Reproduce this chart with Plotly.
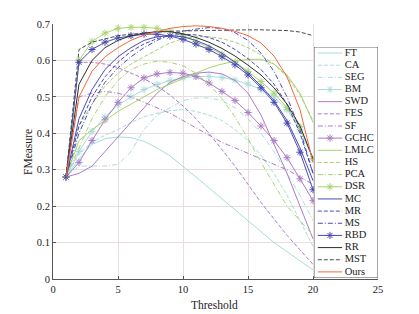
import plotly.graph_objects as go

thresholds = list(range(1, 21))

names = ["FT", "CA", "SEG", "BM", "SWD", "FES", "SF", "GCHC", "LMLC", "HS",
         "PCA", "DSR", "MC", "MR", "MS", "RBD", "RR", "MST", "Ours"]

FT = [0.28, 0.33, 0.37, 0.385, 0.39, 0.388, 0.378, 0.36, 0.338, 0.31, 0.28, 0.25, 0.22, 0.19, 0.16, 0.13, 0.10, 0.075, 0.05, 0.025]
CA = [0.28, 0.345, 0.375, 0.395, 0.41, 0.43, 0.445, 0.455, 0.462, 0.465, 0.46, 0.45, 0.435, 0.41, 0.38, 0.34, 0.29, 0.23, 0.16, 0.09]
SEG = [0.28, 0.31, 0.31, 0.31, 0.315, 0.35, 0.41, 0.45, 0.47, 0.49, 0.497, 0.497, 0.49, 0.47, 0.44, 0.40, 0.35, 0.29, 0.23, 0.16]
BM = [0.28, 0.35, 0.405, 0.445, 0.478, 0.50, 0.52, 0.534, 0.545, 0.552, 0.556, 0.556, 0.553, 0.546, 0.535, 0.52, 0.50, 0.465, 0.41, 0.33]
SWD = [0.28, 0.29, 0.31, 0.35, 0.39, 0.43, 0.47, 0.51, 0.54, 0.555, 0.565, 0.568, 0.563, 0.545, 0.51, 0.45, 0.37, 0.29, 0.20, 0.11]
FES = [0.28, 0.595, 0.595, 0.59, 0.58, 0.565, 0.55, 0.53, 0.505, 0.475, 0.44, 0.40, 0.355, 0.31, 0.26, 0.21, 0.165, 0.12, 0.08, 0.04]
SF = [0.28, 0.50, 0.51, 0.515, 0.51, 0.50, 0.485, 0.47, 0.455, 0.435, 0.415, 0.395, 0.375, 0.36, 0.345, 0.33, 0.315, 0.30, 0.28, 0.26]
GCHC = [0.28, 0.32, 0.38, 0.437, 0.485, 0.525, 0.552, 0.563, 0.567, 0.565, 0.556, 0.538, 0.515, 0.49, 0.457, 0.42, 0.38, 0.333, 0.275, 0.215]
LMLC = [0.28, 0.38, 0.41, 0.435, 0.46, 0.48, 0.50, 0.52, 0.535, 0.55, 0.565, 0.58, 0.59, 0.598, 0.603, 0.603, 0.59, 0.56, 0.51, 0.43]
HS = [0.28, 0.42, 0.48, 0.53, 0.565, 0.59, 0.61, 0.63, 0.648, 0.66, 0.665, 0.665, 0.66, 0.65, 0.635, 0.615, 0.59, 0.555, 0.505, 0.435]
PCA = [0.28, 0.36, 0.44, 0.50, 0.545, 0.575, 0.59, 0.598, 0.595, 0.585, 0.565, 0.535, 0.495, 0.445, 0.385, 0.32, 0.26, 0.20, 0.16, 0.12]
DSR = [0.28, 0.60, 0.652, 0.675, 0.688, 0.691, 0.691, 0.688, 0.68, 0.668, 0.652, 0.635, 0.617, 0.596, 0.57, 0.542, 0.51, 0.47, 0.418, 0.33]
MC = [0.28, 0.44, 0.52, 0.575, 0.61, 0.635, 0.655, 0.665, 0.668, 0.665, 0.655, 0.64, 0.62, 0.595, 0.565, 0.53, 0.49, 0.435, 0.36, 0.27]
MR = [0.28, 0.42, 0.50, 0.555, 0.595, 0.625, 0.645, 0.66, 0.668, 0.672, 0.67, 0.663, 0.65, 0.63, 0.605, 0.575, 0.535, 0.48, 0.40, 0.29]
MS = [0.28, 0.40, 0.48, 0.54, 0.58, 0.61, 0.635, 0.655, 0.67, 0.68, 0.686, 0.69, 0.688, 0.676, 0.655, 0.62, 0.57, 0.50, 0.41, 0.29]
RBD = [0.28, 0.595, 0.63, 0.65, 0.662, 0.668, 0.672, 0.672, 0.667, 0.658, 0.645, 0.63, 0.61, 0.588, 0.56, 0.525, 0.485, 0.428, 0.348, 0.245]
RR = [0.28, 0.535, 0.60, 0.635, 0.655, 0.668, 0.675, 0.679, 0.679, 0.673, 0.663, 0.65, 0.633, 0.612, 0.587, 0.56, 0.525, 0.48, 0.42, 0.33]
MST = [0.28, 0.63, 0.65, 0.66, 0.668, 0.672, 0.675, 0.678, 0.68, 0.681, 0.682, 0.683, 0.684, 0.684, 0.684, 0.684, 0.683, 0.682, 0.678, 0.668]
Ours = [0.28, 0.50, 0.57, 0.61, 0.635, 0.655, 0.67, 0.68, 0.688, 0.693, 0.695, 0.693, 0.688, 0.68, 0.668, 0.648, 0.612, 0.555, 0.465, 0.32]

values = [FT, CA, SEG, BM, SWD, FES, SF, GCHC, LMLC, HS, PCA, DSR, MC, MR, MS, RBD, RR, MST, Ours]

x_ticks = [0, 5, 10, 15, 20, 25]
y_ticks = [0, 0.1, 0.2, 0.3, 0.4, 0.5, 0.6, 0.7]
y_tick_labels = ["0", "0.1", "0.2", "0.3", "0.4", "0.5", "0.6", "0.7"]
x_title = "Threshold"
y_title = "FMeasure"

CYAN = "#aadcdc"
PURPLE = "#ab7cc8"
GREEN = "#a8d470"
BLUE = "#4a4ab8"
DASH = "4px,2px"
DASHDOT = "5px,2px,1px,2px"

styles = {
    "FT": (CYAN, "solid", False), "CA": (CYAN, DASH, False), "SEG": (CYAN, DASHDOT, False), "BM": (CYAN, "solid", True),
    "SWD": (PURPLE, "solid", False), "FES": (PURPLE, DASH, False), "SF": (PURPLE, DASHDOT, False), "GCHC": (PURPLE, "solid", True),
    "LMLC": (GREEN, "solid", False), "HS": (GREEN, DASH, False), "PCA": (GREEN, DASHDOT, False), "DSR": (GREEN, "solid", True),
    "MC": (BLUE, "solid", False), "MR": (BLUE, DASH, False), "MS": (BLUE, DASHDOT, False), "RBD": (BLUE, "solid", True),
    "RR": ("#2e2e2e", "solid", False), "MST": ("#4a4a4a", DASH, False), "Ours": ("#f26a3c", "solid", False),
}

FONT = "Liberation Serif"
fig = go.Figure()

for name, vals in zip(names, values):
    color, dash, star = styles[name]
    fig.add_trace(go.Scatter(
        x=thresholds, y=vals, name=name, mode="lines+markers" if star else "lines",
        line=dict(color=color, width=1, dash=dash),
        marker=dict(symbol="asterisk-open", size=6, color=color, line=dict(width=1, color=color)),
        showlegend=False, xaxis="x", yaxis="y"))

# custom legend in a small inset subplot
for i, name in enumerate(names):
    color, dash, star = styles[name]
    fig.add_trace(go.Scatter(
        x=[0.06, 0.44], y=[i, i], mode="lines", line=dict(color=color, width=1, dash=dash),
        showlegend=False, xaxis="x2", yaxis="y2", hoverinfo="skip"))
    if star:
        fig.add_trace(go.Scatter(
            x=[0.25], y=[i], mode="markers",
            marker=dict(symbol="asterisk-open", size=6, color=color, line=dict(width=1, color=color)),
            showlegend=False, xaxis="x2", yaxis="y2", hoverinfo="skip"))
fig.add_trace(go.Scatter(
    x=[0.48] * len(names), y=list(range(len(names))), mode="text", text=names,
    textposition="middle right", textfont=dict(family=FONT, size=10.5, color="#222"),
    showlegend=False, xaxis="x2", yaxis="y2", hoverinfo="skip"))

fig.add_shape(type="rect", xref="x2", yref="y2", x0=0, x1=1, y0=-0.5, y1=18.5,
              line=dict(color="#555", width=1), fillcolor="white", layer="below")

axis_common = dict(showgrid=True, gridcolor="#e8dede", gridwidth=1, zeroline=False, automargin=False,
                   showline=True, linecolor="#555", linewidth=1, ticks="inside", ticklen=3,
                   tickcolor="#555", tickfont=dict(family=FONT, size=10.5, color="#222"))

fig.update_layout(
    width=419, height=314, margin=dict(l=53, r=41, t=24, b=35),
    paper_bgcolor="white", plot_bgcolor="white",
    xaxis=dict(range=[0, 25], tickvals=x_ticks, domain=[0, 1], **axis_common),
    yaxis=dict(range=[0, 0.7], tickvals=y_ticks, ticktext=y_tick_labels, domain=[0, 1], **axis_common),
    xaxis2=dict(domain=[0.803, 1.0], range=[0, 1], visible=False, anchor="y2", fixedrange=True),
    yaxis2=dict(domain=[0.004, 0.91], range=[18.5, -0.5], visible=False, anchor="x2", fixedrange=True),
    annotations=[
        dict(text=x_title, xref="paper", yref="paper", x=0.498, y=-0.102, xanchor="center", yanchor="middle",
             showarrow=False, font=dict(family=FONT, size=11.5, color="#222")),
        dict(text=y_title, xref="paper", yref="paper", x=-0.077, y=0.498, xanchor="center", yanchor="middle",
             textangle=-90, showarrow=False, font=dict(family=FONT, size=11.5, color="#222")),
    ],
)

fig.write_html("out.html", config={"displayModeBar": False, "staticPlot": True},
               post_script="document.body.style.margin='0';")
